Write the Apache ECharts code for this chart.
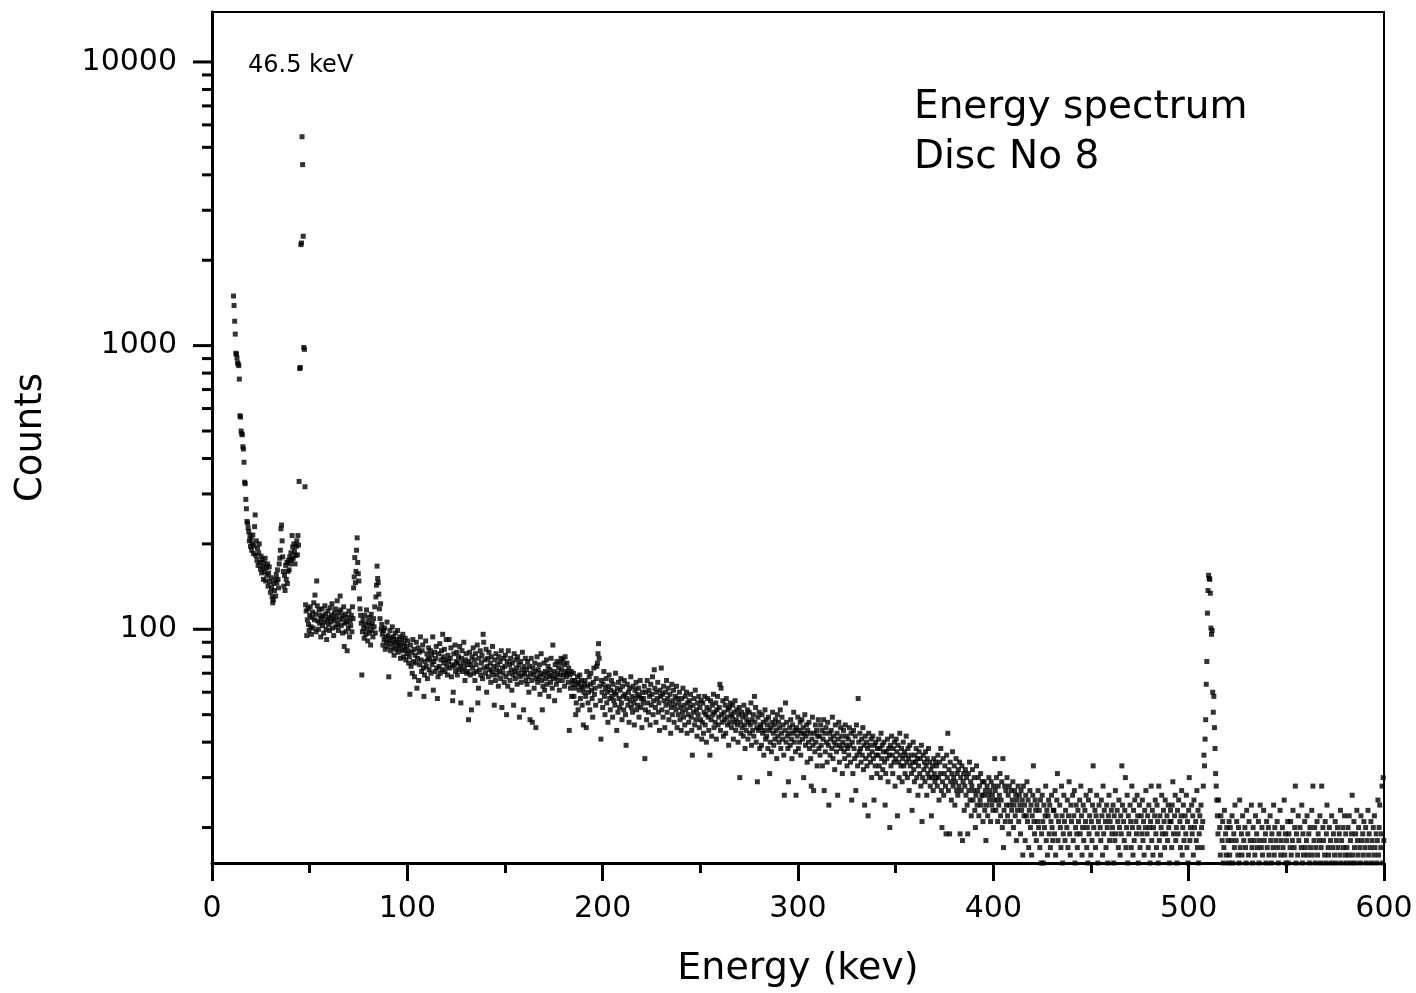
<!DOCTYPE html>
<html>
<head>
<meta charset="utf-8">
<script src="https://cdn.jsdelivr.net/npm/echarts@6/dist/echarts.min.js"></script>
<style>
html,body{margin:0;padding:0;background:#fff;}
#chart{width:1416px;height:993px;}
</style>
</head>
<body>
<div id="chart"></div>
<script>
// ---------------- DATA ----------------
// Channel width of the spectrum (keV) and start energy of each segment (keV)
const channelWidthKeV = 0.3;
const segmentStartKeV = [11, 41, 71, 101, 131, 161, 191, 221, 251, 281, 311, 341, 371, 401, 431, 461, 491, 521, 551, 581];

// Counts per channel (segments of 30 keV)
const counts_011 = [1496,1385,1219,1098,940,933,905,870,861,850,762,566,560,500,489,485,440,432,388,330,326,287,266,240,237,
228,221,205,214,196,208,190,200,215,185,197,230,253,182,205,175,193,168,186,200,172,163,181,158,176,166,150,171,160,178,148,165,155,170,142,158,166,147,135,152,140,130,124,127,145,137,150,131,156,146,162,150,140,170,178,190,226,233,205,180,160,142,155,137,168,150,172,145,160,175,162,180,170,186,176];
const counts_041 = [214,195,178,200,188,170,182,196,205,183,214,198,
332,830,838,2270,2300,5450,4345,2430,985,970,318,
122,116,95,108,118,104,99,112,120,102,96,110,115,101,124,108,132,113,98,148,121,107,100,117,105,112,94,109,118,103,111,97,106,121,113,100,92,108,116,104,110,99,119,106,112,123,101,109,95,114,107,118,102,111,126,104,99,115,108,131,117,103,112,97,109,120,87,105,113,98,106,84,110,101,116,94,107];
const counts_071 = [103,112,98,120,109,
140,153,179,146,160,190,210,172,157,148,128,118,112,105,69,
98,108,101,93,112,104,96,117,100,91,106,110,97,103,88,113,99,105,94,109,102,120,97,
130,143,167,151,146,133,118,109,123,100,
104,96,88,99,92,101,85,94,90,106,87,95,68,91,99,84,93,89,102,86,94,81,90,97,85,92,88,99,83,90,86,94,79,88,92,84,96,80,89,85,93,78,87,82,91,84,76];
const counts_101 = [80,59,88,74,83,70,92,77,85,68,81,76,90,62,79,86,66,83,75,94,78,71,84,88,73,58,69,77,91,74,82,67,79,86,72,78,84,70,81,75,94,61,77,83,71,79,87,73,57,68,82,74,89,70,78,84,72,96,80,76,85,71,78,92,74,69,81,77,92,73,79,86,68,75,56,60,82,74,88,71,77,83,69,76,80,72,87,74,55,79,84,71,76,90,73,66,78,82,70,75];
const counts_131 = [71,48,77,83,69,75,52,80,73,86,70,78,66,82,75,71,88,55,62,79,72,84,69,76,81,67,96,90,73,78,70,85,60,74,79,68,83,72,76,65,80,71,87,69,74,54,78,66,82,72,69,75,63,80,71,77,67,84,53,73,70,79,65,74,81,68,50,77,63,84,70,75,66,79,72,61,76,69,54,82,71,67,78,73,64,80,70,75,49,68,77,65,72,83,69,52,74,70,79,66];
const counts_161 = [72,64,77,68,60,74,48,70,79,66,47,73,69,62,76,71,45,67,80,65,72,68,75,59,70,82,66,52,63,69,76,61,71,67,78,64,70,74,58,68,72,65,79,69,62,88,67,71,56,75,68,64,77,70,66,73,61,76,69,79,72,66,78,69,75,63,80,71,68,76,70,65,73,44,69,62,71,58,66,64,70,58,66,62,50,55,64,68,52,65,61,69,57,63,66,54,62,46,60,64];
const counts_191 = [66,58,45,71,63,55,60,68,52,64,70,61,57,49,65,73,59,62,54,67,74,76,82,89,79,63,56,41,66,60,53,64,71,58,50,62,67,55,60,47,63,69,57,52,61,66,58,49,64,56,60,54,70,59,44,62,51,65,57,53,61,67,55,48,63,58,52,66,59,50,39,57,64,54,60,47,62,56,68,53,58,51,63,55,46,61,57,65,52,59,54,62,49,58,66,53,57,45,60,55];
const counts_221 = [57,63,35,52,60,48,66,55,51,61,58,46,64,54,59,68,50,56,72,62,53,47,60,57,65,51,55,44,61,58,73,52,59,49,63,56,45,60,54,66,51,57,62,48,55,59,43,53,64,50,56,61,47,54,58,52,63,45,57,50,55,60,48,53,44,57,51,62,49,54,46,58,52,60,43,55,50,47,56,53,59,49,44,36,54,51,57,46,61,48,52,42,55,50,58,45,53,48,56,41];
const counts_251 = [47,55,43,51,58,46,50,40,53,57,49,44,52,36,56,48,42,54,50,59,45,51,47,55,41,52,58,46,49,53,64,44,62,50,47,56,42,51,48,54,43,57,49,46,52,39,53,47,55,50,45,49,54,41,51,47,56,44,48,52,46,40,50,53,30,47,43,51,45,49,42,54,46,38,50,44,48,52,41,47,51,43,46,55,39,48,44,50,42,58,47,53,40,45,29,49,44,51,38,46];
const counts_281 = [45,39,50,43,47,36,44,52,41,48,42,46,38,49,44,31,40,45,37,47,51,43,39,46,41,48,44,35,50,42,47,40,45,52,38,43,49,41,46,36,26,44,55,40,47,42,38,29,43,45,39,48,41,35,46,43,51,40,44,37,26,45,42,49,38,44,40,47,36,43,48,41,45,30,43,50,39,42,46,34,44,40,47,38,43,35,28,41,49,39,27,43,37,46,40,44,33,42,48,38];
const counts_311 = [42,36,46,39,44,33,41,48,27,43,37,45,40,34,47,39,24,43,36,41,44,38,49,35,42,40,32,46,39,37,43,26,41,47,34,39,45,38,42,31,40,44,37,35,46,39,42,33,38,41,36,45,39,34,43,25,40,31,44,38,35,42,27,46,36,33,57,40,37,43,38,34,41,36,45,32,39,24,42,35,40,33,38,22,43,36,39,34,41,30,37,42,35,25,39,33,40,36,31,38];
const counts_341 = [36,41,33,38,30,43,35,39,32,37,40,34,24,31,37,35,41,29,38,36,20,39,33,42,36,31,38,34,40,28,35,41,37,22,39,34,30,43,36,33,38,29,35,40,33,37,31,36,42,34,30,38,35,27,39,33,36,31,23,34,40,32,29,36,34,38,30,35,26,33,37,31,35,28,39,21,30,36,32,34,29,37,33,26,35,31,38,30,34,28,32,22,30,33,27,35,31,29,34,30];
const counts_371 = [33,28,36,30,25,34,31,38,27,20,29,35,26,31,33,28,19,36,30,43,27,32,19,34,29,25,31,37,28,30,33,24,29,35,27,31,26,32,28,34,19,30,27,33,18,29,31,23,28,32,26,30,24,19,31,27,34,25,29,22,28,32,25,27,30,23,20,26,33,24,27,30,22,28,25,31,24,26,29,21,26,29,23,27,18,24,28,22,26,30,25,27,21,29,24,26,23,28,25,35];
const counts_401 = [27,23,30,25,21,28,24,26,31,22,25,29,20,35,17,23,28,21,27,24,30,22,26,19,28,24,21,27,23,25,29,20,24,27,22,26,18,25,23,28,21,26,24,19,27,23,25,16,28,22,24,18,26,22,29,21,25,17,23,27,20,24,16,22,26,33,21,19,25,23,18,24,21,27,20,23,17,25,15,19,26,21,15,24,20,22,28,18,23,16,22,25,19,24,17,21,26,20,18,23];
const counts_431 = [23,19,27,16,22,25,31,18,21,13,24,20,17,28,22,15,19,26,21,18,23,14,20,25,17,22,29,19,16,24,21,12,26,18,22,27,15,20,24,19,17,23,21,14,25,19,28,22,16,20,24,18,13,23,21,26,17,20,15,25,19,22,27,16,21,18,24,33,20,14,23,17,22,26,19,15,21,24,12,20,18,25,22,16,28,19,23,14,21,17,24,20,15,22,26,18,21,13,23,19];
const counts_461 = [20,24,15,22,18,27,19,13,23,21,17,25,20,16,22,19,33,24,14,21,18,23,30,17,20,26,15,22,19,12,24,21,17,28,20,16,23,18,25,14,21,19,26,22,15,20,24,17,13,22,19,25,18,21,16,23,20,27,14,19,22,17,24,20,15,21,28,18,23,16,20,13,22,25,19,17,24,21,15,28,18,22,16,20,26,19,14,23,21,17,25,19,12,22,18,24,20,15,21,23];
const counts_491 = [21,17,24,29,19,14,22,26,18,20,15,23,19,25,13,21,17,22,27,16,20,24,18,14,22,19,26,17,21,15,23,30,18,20,13,24,19,22,16,25,20,14,21,18,27,17,23,15,19,22,12,24,20,17,21,
28,36,33,41,48,64,77,114,137,155,151,150,134,101,96,99,60,51,58,45,38,31,28,25,22,
19,25,14,20,16,22,12,18,21,15,17,23,13,19,16,20,11,18,15,21];
const counts_521 = [16,20,13,18,22,15,11,19,17,24,14,18,21,12,16,20,15,25,17,13,19,16,22,14,18,10,20,17,15,23,12,19,16,21,14,18,13,24,17,15,20,11,18,16,22,14,19,17,12,21,15,18,24,13,17,20,16,14,23,18,12,19,15,21,17,14,20,16,13,22,18,15,19,11,17,24,16,20,14,18,13,21,17,15,19,12,23,16,18,14,20,17,13,25,16,19,15,18,12,21];
const counts_551 = [15,19,13,17,21,16,12,18,23,14,17,20,28,15,19,11,16,22,18,14,20,13,17,24,15,19,16,12,21,17,14,18,22,16,13,19,15,20,17,11,23,16,28,14,18,20,15,17,13,21,16,19,12,18,22,15,17,28,14,20,18,13,16,21,15,19,24,12,17,16,20,14,18,15,22,13,17,19,11,16,21,15,18,14,20,17,12,19,16,23,15,18,13,20,17,14,22,16,19,15];
const counts_581 = [17,14,20,16,22,13,18,15,19,26,16,12,21,17,15,19,14,23,18,16,20,13,17,15,22,18,11,19,16,21,14,17,20,15,18,12,23,16,19,14,17,21,15,18,13,20,16,22,17,14,19,15,18,25,16,20,24,13,17,19,28,15,30,18,22];

const countSegments = [counts_011, counts_041, counts_071, counts_101, counts_131, counts_161, counts_191, counts_221, counts_251, counts_281, counts_311, counts_341, counts_371, counts_401, counts_431, counts_461, counts_491, counts_521, counts_551, counts_581];

// Axis ticks
const xTickStep = 100;
const yLabelValues = [100, 1000, 10000];
const yMinorTickValues = [20,30,40,50,60,70,80,90,200,300,400,500,600,700,800,900,2000,3000,4000,5000,6000,7000,8000,9000];

// Texts
const peakLabel = '46.5 keV';
const titleLines = ['Energy spectrum', 'Disc No 8'];
const xName = 'Energy (kev)';
const yName = 'Counts';

// ---------------- BUILD ----------------
const points = [];
countSegments.forEach((seg, s) => {
  seg.forEach((c, i) => {
    points.push([+(segmentStartKeV[s] + i * channelWidthKeV).toFixed(1), c]);
  });
});

const FONT = "'DejaVu Sans', 'Liberation Sans', Arial, sans-serif";
const chart = echarts.init(document.getElementById('chart'), null, {renderer: 'canvas'});

const yTickData = yLabelValues.map(v => [0, v, 19]).concat(yMinorTickValues.map(v => [0, v, 10]));

chart.setOption({
  animation: false,
  backgroundColor: '#fff',
  grid: {left: 212, right: 32, top: 12, bottom: 130, show: true, borderColor: '#000', borderWidth: 2, backgroundColor: 'transparent'},
  xAxis: {
    type: 'value', min: 0, max: 600, interval: xTickStep,
    name: xName, nameLocation: 'middle', nameGap: 87,
    nameTextStyle: {fontSize: 38, color: '#000', fontFamily: FONT},
    axisLine: {show: true, onZero: false, lineStyle: {color: '#000', width: 3}},
    axisTick: {show: true, length: 18, lineStyle: {color: '#000', width: 3}},
    minorTick: {show: true, splitNumber: 2, length: 10, lineStyle: {color: '#000', width: 3}},
    axisLabel: {fontSize: 30, color: '#000', fontFamily: FONT, margin: 31},
    splitLine: {show: false}
  },
  yAxis: {
    type: 'log', logBase: 10, min: 15, max: 15000,
    name: yName, nameLocation: 'middle', nameGap: 162, nameRotate: 90,
    nameTextStyle: {fontSize: 37, color: '#000', fontFamily: FONT},
    axisLine: {show: true, onZero: false, lineStyle: {color: '#000', width: 3}},
    axisTick: {show: false},
    axisLabel: {
      fontSize: 30, color: '#000', fontFamily: FONT, margin: 35,
      showMinLabel: false, showMaxLabel: false,
      formatter: v => (yLabelValues.indexOf(Math.round(v)) >= 0 ? String(Math.round(v)) : '')
    },
    splitLine: {show: false}
  },
  graphic: [
    {type: 'text', left: 248, top: 54, style: {text: peakLabel, font: '24px ' + FONT, fill: '#000'}},
    {type: 'text', left: 914, top: 88, style: {text: titleLines[0], font: '39px ' + FONT, fill: '#000'}},
    {type: 'text', left: 914, top: 138, style: {text: titleLines[1], font: '39px ' + FONT, fill: '#000'}}
  ],
  series: [
    {
      type: 'scatter', data: points, symbol: 'rect', symbolSize: 5,
      itemStyle: {color: '#000'}, clip: true, large: false, silent: true
    },
    {
      type: 'custom', data: yTickData, silent: true, clip: false, z: 5,
      encode: {x: 0, y: 1},
      renderItem: function (params, api) {
        const p = api.coord([api.value(0), api.value(1)]);
        const len = api.value(2);
        return {type: 'line', shape: {x1: p[0] - len, y1: p[1], x2: p[0], y2: p[1]}, style: {stroke: '#000', lineWidth: 3}};
      }
    }
  ]
});
</script>
</body>
</html>
